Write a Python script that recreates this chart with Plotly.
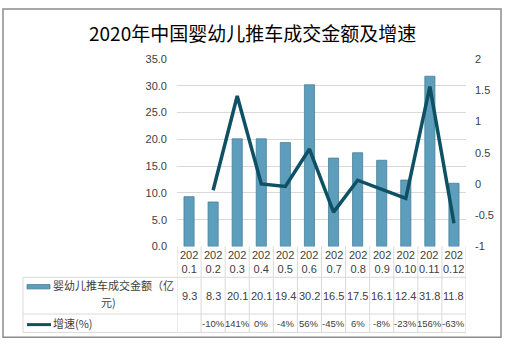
import plotly.graph_objects as go

# ---------------- data ----------------
months = ["2020.1", "2020.2", "2020.3", "2020.4", "2020.5", "2020.6",
          "2020.7", "2020.8", "2020.9", "2020.10", "2020.11", "2020.12"]
amount = [9.3, 8.3, 20.1, 20.1, 19.4, 30.2, 16.5, 17.5, 16.1, 12.4, 31.8, 11.8]
growth = [None, -0.10, 1.41, 0.00, -0.04, 0.56, -0.45, 0.06, -0.08, -0.23, 1.56, -0.63]
bar_name = "婴幼儿推车成交金额（亿元)"
line_name = "增速(%)"
title_text = "2020年中国婴幼儿推车成交金额及增速"
left_ticks = [0, 5, 10, 15, 20, 25, 30, 35]
right_ticks = [-1, -0.5, 0, 0.5, 1, 1.5, 2]

# ---------------- layout helpers ----------------
W, H = 505, 348
def fx(px):
    return px / W
def fy(py):
    return 1 - py / H

PL, PR, PT, PB = 177, 466, 55, 249   # plot area in pixels
TL = 23                               # table left
R1, R2, R3 = 281, 319, 338            # table row borders
TEXT = "#404040"
GRID = "#d9d9d9"
FONT = "Liberation Sans, Arial, Noto Sans CJK SC"
CJK = "Noto Sans CJK SC"

idx = list(range(len(months)))

fig = go.Figure()
fig.add_trace(go.Bar(
    x=idx, y=amount, name=bar_name,
    marker=dict(color="#5e9ebd", line=dict(color="#4a7f96", width=0.8)),
    width=0.42, yaxis="y", showlegend=False,
))
fig.add_trace(go.Scatter(
    x=idx, y=growth, name=line_name, mode="lines",
    line=dict(color="#0e5064", width=3.5), yaxis="y2",
    connectgaps=False, showlegend=False,
))

fig.update_layout(
    width=W, height=H,
    margin=dict(l=0, r=0, t=0, b=0),
    paper_bgcolor="white", plot_bgcolor="white",
    showlegend=False,
    xaxis=dict(domain=[fx(PL), fx(PR)], range=[-0.5, len(months) - 0.5],
               showticklabels=False, showgrid=False, zeroline=False,
               showline=False, ticks="", fixedrange=True),
    yaxis=dict(domain=[fy(PB), fy(PT)], range=[0, 35],
               tickvals=left_ticks, ticktext=[f"{v:.1f}" for v in left_ticks],
               showgrid=True, gridcolor=GRID, gridwidth=1, zeroline=False,
               showline=False, ticks="", ticklabelstandoff=9,
               tickfont=dict(family=FONT, size=11, color=TEXT)),
    yaxis2=dict(overlaying="y", side="right", range=[-1, 2],
                tickvals=right_ticks, ticktext=[f"{v:g}" for v in right_ticks],
                showgrid=False, zeroline=False, showline=False, ticks="",
                ticklabelstandoff=8,
                tickfont=dict(family=FONT, size=11, color=TEXT)),
)

shapes = []
# outer border
shapes.append(dict(type="rect", xref="paper", yref="paper",
                   x0=fx(3), x1=fx(501), y0=fy(343), y1=fy(3),
                   line=dict(color="#8c8c8c", width=1.5)))
# table horizontal lines
for ry in (R1, R2, R3):
    shapes.append(dict(type="line", xref="paper", yref="paper",
                       x0=fx(TL), x1=fx(PR), y0=fy(ry), y1=fy(ry),
                       line=dict(color=GRID, width=1)))
# table vertical lines between category columns
for i in range(len(months) + 1):
    shapes.append(dict(type="line", xref="x", yref="paper",
                       x0=i - 0.5, x1=i - 0.5, y0=fy(R3), y1=fy(PB),
                       line=dict(color=GRID, width=1)))
# left border of table body
shapes.append(dict(type="line", xref="paper", yref="paper",
                   x0=fx(TL), x1=fx(TL), y0=fy(R3), y1=fy(R1),
                   line=dict(color=GRID, width=1)))
# legend keys
shapes.append(dict(type="rect", xref="paper", yref="paper",
                   x0=fx(27), x1=fx(50), y0=fy(293), y1=fy(288.5),
                   fillcolor="#5e9ebd", line=dict(color="#4a7f96", width=0.8)))
shapes.append(dict(type="line", xref="paper", yref="paper",
                   x0=fx(27), x1=fx(51), y0=fy(330), y1=fy(330),
                   line=dict(color="#0e5064", width=3)))
fig.update_layout(shapes=shapes)

ann = []
ann.append(dict(text=title_text, xref="paper", yref="paper",
                x=fx(252), y=fy(27), showarrow=False, xanchor="center", yanchor="middle",
                font=dict(family=CJK, size=19, color="black")))
# header row: month labels split in two lines
for i, m in enumerate(months):
    ann.append(dict(text=m[:3] + "<br>" + m[3:], xref="x", yref="paper",
                    x=i, y=fy(265), showarrow=False, xanchor="center", yanchor="middle",
                    font=dict(family=FONT, size=11, color=TEXT)))
    ann.append(dict(text=f"{amount[i]:.1f}", xref="x", yref="paper",
                    x=i, y=fy(300), showarrow=False, xanchor="center", yanchor="middle",
                    font=dict(family=FONT, size=11, color=TEXT)))
    g = growth[i]
    if g is not None:
        ann.append(dict(text=f"{round(g * 100):d}%", xref="x", yref="paper",
                        x=i, y=fy(328.5), showarrow=False, xanchor="center", yanchor="middle",
                        font=dict(family=FONT, size=9.5, color=TEXT)))
# row labels
ann.append(dict(text=bar_name[:-2], xref="paper", yref="paper",
                x=fx(51), y=fy(289), showarrow=False, xanchor="left", yanchor="middle",
                font=dict(family=CJK, size=11, color=TEXT)))
ann.append(dict(text=bar_name[-2:], xref="paper", yref="paper",
                x=fx(108), y=fy(307), showarrow=False, xanchor="center", yanchor="middle",
                font=dict(family=CJK, size=11, color=TEXT)))
ann.append(dict(text=line_name, xref="paper", yref="paper",
                x=fx(51), y=fy(328.5), showarrow=False, xanchor="left", yanchor="middle",
                font=dict(family=CJK, size=11, color=TEXT)))
fig.update_layout(annotations=ann)

fig.write_html("out.html")
